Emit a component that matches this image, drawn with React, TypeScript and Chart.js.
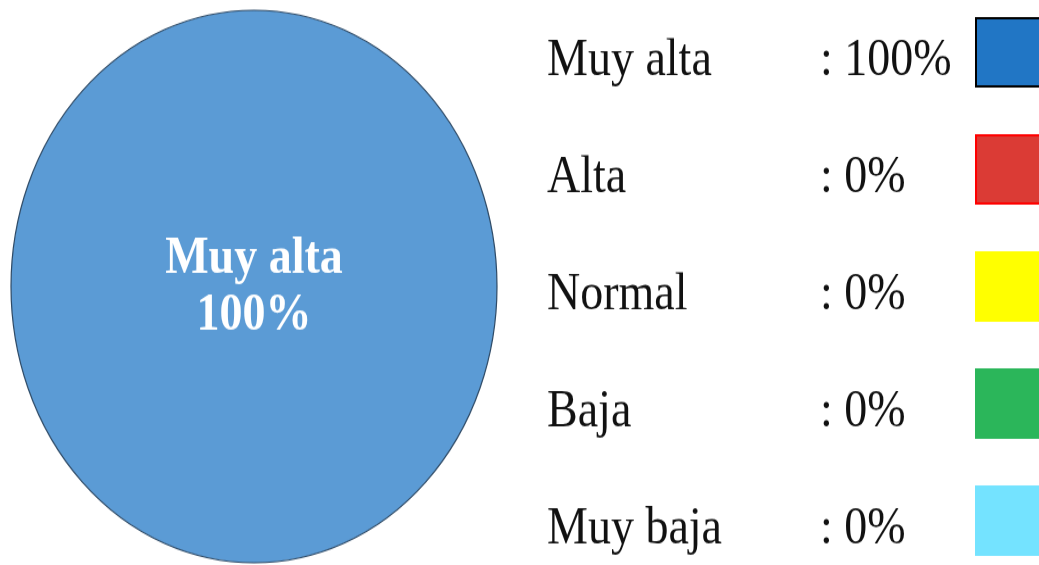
import React, { useEffect, useRef } from "react";
import { Chart, registerables } from "chart.js";

Chart.register(...registerables);

const categories = ["Muy alta", "Alta", "Normal", "Baja", "Muy baja"];
const values = [100, 0, 0, 0, 0];
const sliceColors = ["#5B9BD5", "#DB3B35", "#FFFF00", "#2BB65A", "#74E3FF"];
const boxColors = ["#2176C5", "#DB3B35", "#FFFF00", "#2BB65A", "#74E3FF"];
const boxBorders = ["#000000", "#FF0000", "#FFFF00", "#2BB65A", "#74E3FF"];

const W = 1039;
const H = 497; // internal height, stretched to 565 by CSS

const FONT = "'Liberation Serif', 'Times New Roman', serif";

const sideLegend = {
  id: "sideLegend",
  afterDraw(chart: any) {
    const ctx = chart.ctx;
    ctx.save();
    ctx.font = `46px ${FONT}`;
    ctx.textBaseline = "alphabetic";
    ctx.textAlign = "left";
    const total = values.reduce((a, b) => a + b, 0);
    categories.forEach((label, i) => {
      const base = 66 + i * 103;
      ctx.fillStyle = "#111111";
      ctx.fillText(label, 547, base);
      const pct = Math.round((values[i] / total) * 100);
      ctx.fillText(`: ${pct}%`, 820, base);
      const bx = 976;
      const by = base - 50;
      ctx.fillStyle = boxColors[i];
      ctx.fillRect(bx, by, 80, 60);
      ctx.lineWidth = 2;
      ctx.strokeStyle = boxBorders[i];
      ctx.strokeRect(bx, by, 80, 60);
    });
    ctx.restore();
  },
};

const pieOutlineAndLabel = {
  id: "pieOutlineAndLabel",
  afterDatasetsDraw(chart: any) {
    const ctx = chart.ctx;
    const meta = chart.getDatasetMeta(0);
    const total = values.reduce((a, b) => a + b, 0);
    ctx.save();
    const first = meta.data[0];
    if (first) {
      ctx.beginPath();
      ctx.arc(first.x, first.y, first.outerRadius, 0, Math.PI * 2);
      ctx.lineWidth = 1.2;
      ctx.strokeStyle = "#2E4A66";
      ctx.stroke();
    }
    ctx.font = `bold 46px ${FONT}`;
    ctx.fillStyle = "#FFFFFF";
    ctx.textAlign = "center";
    ctx.textBaseline = "alphabetic";
    meta.data.forEach((el: any, i: number) => {
      if (!values[i]) return;
      const pct = Math.round((values[i] / total) * 100);
      ctx.fillText(categories[i], el.x, el.y - 12);
      ctx.fillText(`${pct}%`, el.x, el.y + 38);
    });
    ctx.restore();
  },
};

export default function App() {
  const ref = useRef<HTMLCanvasElement>(null);
  useEffect(() => {
    if (!ref.current) return;
    const chart = new Chart(ref.current, {
      type: "pie",
      data: {
        labels: categories,
        datasets: [
          {
            data: values,
            backgroundColor: sliceColors,
            borderWidth: 0,
          },
        ],
      },
      options: {
        animation: false,
        responsive: false,
        maintainAspectRatio: false,
        devicePixelRatio: 1,
        layout: { padding: { left: 11, top: 9, bottom: 2, right: 542 } },
        plugins: {
          legend: { display: false },
          tooltip: { enabled: false },
        },
      },
      plugins: [pieOutlineAndLabel, sideLegend],
    });
    return () => chart.destroy();
  }, []);
  return (
    <div style={{ position: "fixed", left: 0, top: 0, width: W, height: 565, background: "#fff", overflow: "hidden" }}>
      <canvas ref={ref} width={W} height={H} style={{ width: W + "px", height: "565px", display: "block" }} />
    </div>
  );
}
